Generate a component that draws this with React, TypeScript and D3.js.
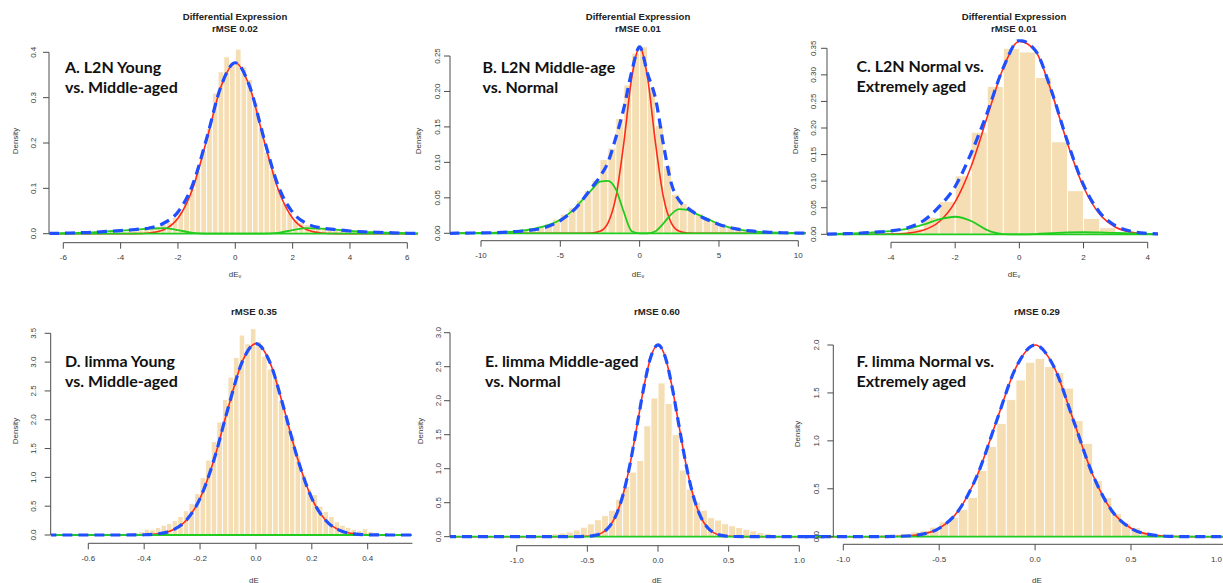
import React from "react";
import * as d3 from "d3";

// ---- A. L2N Young vs. Middle-aged ----
const aX = [-6.5, -6, -5.5, -5, -4.5, -4, -3.5, -3, -2.5, -2, -1.5, -1, -0.5, 0, 0.5, 1, 1.5, 2, 2.5, 3, 3.5, 4, 4.5, 5, 5.5, 6, 6.5];
const aRed = [0, 0, 0, 0, 0, 0, 0.0002, 0.0017, 0.0087, 0.034, 0.097, 0.206, 0.324, 0.377, 0.324, 0.206, 0.097, 0.034, 0.0087, 0.0017, 0.0002, 0, 0, 0, 0, 0, 0];
const aGreenL = [0.0005, 0.001, 0.002, 0.003, 0.005, 0.0068, 0.009, 0.011, 0.0125, 0.008, 0.002, 0.0003, 0, 0, 0, 0, 0, 0, 0, 0, 0, 0, 0, 0, 0, 0, 0];
const aGreenR = [0, 0, 0, 0, 0, 0, 0, 0, 0, 0, 0, 0, 0, 0, 0, 0.0003, 0.002, 0.008, 0.0125, 0.011, 0.009, 0.006, 0.004, 0.003, 0.002, 0.001, 0.0005];
const aBlue = [0.0005, 0.001, 0.002, 0.003, 0.005, 0.0068, 0.0092, 0.0127, 0.023, 0.048, 0.106, 0.21, 0.325, 0.377, 0.325, 0.21, 0.105, 0.047, 0.022, 0.0127, 0.0092, 0.006, 0.004, 0.003, 0.002, 0.001, 0.0005];
const aBins = [0.003, 0.004, 0.004, 0.005, 0.006, 0.007, 0.008, 0.011, 0.013, 0.016, 0.02, 0.026, 0.036, 0.05, 0.072, 0.1, 0.138, 0.182, 0.232, 0.31, 0.357, 0.39, 0.378, 0.407, 0.368, 0.34, 0.29, 0.235, 0.18, 0.14, 0.1, 0.068, 0.046, 0.032, 0.025, 0.02, 0.017, 0.015, 0.013, 0.011, 0.009, 0.007, 0.006, 0.005, 0.004, 0.003];

// ---- B. L2N Middle-age vs. Normal ----
const bX = [-12, -11, -10, -9, -8, -7, -6, -5, -4.5, -4, -3.5, -3, -2.5, -2, -1.5, -1, -0.5, 0, 0.5, 1, 1.5, 2, 2.5, 3, 3.5, 4, 4.5, 5, 6, 7, 8, 9, 10, 11];
const bRed = [0, 0, 0, 0, 0, 0, 0, 0, 0, 0, 0.0001, 0.0004, 0.0028, 0.0144, 0.051, 0.127, 0.219, 0.262, 0.219, 0.127, 0.051, 0.0144, 0.0028, 0.0004, 0.0001, 0, 0, 0, 0, 0, 0, 0, 0, 0];
const bGreenL = [0, 0.0003, 0.0006, 0.001, 0.0025, 0.005, 0.01, 0.019, 0.027, 0.037, 0.05, 0.062, 0.073, 0.074, 0.062, 0.03, 0.003, 0, 0, 0, 0, 0, 0, 0, 0, 0, 0, 0, 0, 0, 0, 0, 0, 0];
const bGreenR = [0, 0, 0, 0, 0, 0, 0, 0, 0, 0, 0, 0, 0, 0, 0, 0, 0, 0, 0, 0.003, 0.014, 0.027, 0.034, 0.033, 0.028, 0.023, 0.018, 0.013, 0.0066, 0.003, 0.0015, 0.0007, 0.0003, 0.0001];
const bBlue = [0, 0.0003, 0.0006, 0.001, 0.0022, 0.004, 0.008, 0.018, 0.026, 0.036, 0.05, 0.065, 0.08, 0.1, 0.135, 0.176, 0.228, 0.263, 0.225, 0.19, 0.125, 0.07, 0.046, 0.036, 0.028, 0.022, 0.017, 0.0125, 0.0065, 0.0033, 0.0016, 0.0008, 0.0003, 0.0001];
const bBins = [0.003, 0.005, 0.007, 0.01, 0.014, 0.02, 0.027, 0.036, 0.047, 0.06, 0.075, 0.104, 0.12, 0.162, 0.209, 0.254, 0.263, 0.205, 0.152, 0.095, 0.055, 0.042, 0.034, 0.028, 0.022, 0.017, 0.013, 0.01, 0.007, 0.005, 0.003, 0.002];

// ---- C. L2N Normal vs. Extremely aged ----
const cX = [-6, -5.5, -5, -4.5, -4, -3.5, -3, -2.5, -2, -1.5, -1, -0.5, 0, 0.5, 1, 1.5, 2, 2.5, 3, 3.5, 4, 4.5];
const cRed = [0, 0, 0, 0.0001, 0.0004, 0.002, 0.0075, 0.0236, 0.061, 0.128, 0.221, 0.313, 0.363, 0.345, 0.268, 0.171, 0.089, 0.038, 0.0134, 0.0039, 0.0009, 0.0002];
const cGreenL = [0.0003, 0.001, 0.002, 0.004, 0.006, 0.01, 0.018, 0.028, 0.033, 0.025, 0.008, 0.0005, 0, 0, 0, 0, 0, 0, 0, 0, 0, 0];
const cGreenR = [0, 0, 0, 0, 0, 0, 0, 0, 0, 0, 0, 0, 0, 0.0005, 0.002, 0.0035, 0.004, 0.0035, 0.0025, 0.0015, 0.0008, 0.0004];
const cBlue = [0.0003, 0.001, 0.002, 0.004, 0.0065, 0.012, 0.025, 0.052, 0.09, 0.153, 0.229, 0.3135, 0.365, 0.346, 0.27, 0.1745, 0.093, 0.0415, 0.016, 0.0054, 0.0017, 0.0006];
const cBins = [0.001, 0.004, 0.011, 0.032, 0.0615, 0.11, 0.192, 0.278, 0.35, 0.343, 0.295, 0.174, 0.082, 0.03, 0.0125, 0.004];

// ---- D. limma Young vs. Middle-aged ----
const dX = [-0.75, -0.7, -0.65, -0.6, -0.55, -0.5, -0.45, -0.4, -0.35, -0.3, -0.25, -0.2, -0.15, -0.1, -0.05, 0, 0.05, 0.1, 0.15, 0.2, 0.25, 0.3, 0.35, 0.4, 0.45, 0.5, 0.55, 0.6];
const dRed = [0, 0, 0, 0, 0, 0, 0.0008, 0.0045, 0.021, 0.081, 0.251, 0.636, 1.31, 2.196, 2.995, 3.32, 2.995, 2.196, 1.31, 0.636, 0.251, 0.081, 0.021, 0.0045, 0.0008, 0, 0, 0];
const dGreen = [0, 0, 0, 0, 0, 0, 0, 0, 0, 0, 0, 0, 0, 0, 0, 0, 0, 0, 0, 0, 0, 0, 0, 0, 0, 0, 0, 0];
const dBins = [0.01, 0.02, 0.02, 0.03, 0.04, 0.06, 0.1, 0.09, 0.13, 0.17, 0.2, 0.25, 0.32, 0.42, 0.55, 0.72, 1.0, 1.3, 1.62, 1.96, 2.35, 2.74, 3.08, 3.47, 3.32, 3.58, 3.36, 3.1, 2.88, 2.72, 2.34, 2.03, 1.72, 1.38, 1.05, 0.79, 0.7, 0.5, 0.41, 0.32, 0.23, 0.17, 0.13, 0.1, 0.075, 0.11, 0.06, 0.04, 0.02];

// ---- E. limma Middle-aged vs. Normal ----
const eX = [-1.5, -1.2, -0.9, -0.7, -0.6, -0.5, -0.45, -0.4, -0.35, -0.3, -0.25, -0.2, -0.15, -0.1, -0.05, 0, 0.05, 0.1, 0.15, 0.2, 0.25, 0.3, 0.35, 0.4, 0.45, 0.5, 0.6, 0.7, 0.9, 1.2];
const eRed = [0, 0, 0, 0, 0.0004, 0.0057, 0.0186, 0.053, 0.135, 0.302, 0.598, 1.045, 1.614, 2.2, 2.65, 2.82, 2.65, 2.2, 1.614, 1.045, 0.598, 0.302, 0.135, 0.053, 0.0186, 0.0057, 0.0004, 0, 0, 0];
const eGreen = [0, 0, 0, 0, 0, 0, 0, 0, 0, 0, 0, 0, 0, 0, 0, 0, 0, 0, 0, 0, 0, 0, 0, 0, 0, 0, 0, 0, 0, 0];
const eBins = [0.01, 0.015, 0.02, 0.03, 0.04, 0.055, 0.07, 0.1, 0.14, 0.19, 0.25, 0.31, 0.39, 0.55, 0.74, 0.95, 1.12, 1.63, 2.04, 2.26, 1.96, 1.5, 0.98, 0.7, 0.51, 0.39, 0.28, 0.245, 0.19, 0.16, 0.135, 0.11, 0.085, 0.06, 0.045, 0.02];

// ---- F. limma Normal vs. Extremely aged ----
const fX = [-1.2, -1.1, -1, -0.9, -0.8, -0.7, -0.6, -0.5, -0.4, -0.3, -0.2, -0.1, 0, 0.1, 0.2, 0.3, 0.4, 0.5, 0.6, 0.7, 0.8, 0.9, 1, 1.1, 1.2];
const fRed = [0, 0, 0, 0, 0.0007, 0.0044, 0.022, 0.088, 0.271, 0.649, 1.213, 1.765, 2.0, 1.765, 1.213, 0.649, 0.271, 0.088, 0.022, 0.0044, 0.0007, 0, 0, 0, 0];
const fGreen = [0, 0, 0, 0, 0, 0, 0, 0, 0, 0, 0, 0, 0, 0, 0, 0, 0, 0, 0, 0, 0, 0, 0, 0, 0];
const fBins = [0.01, 0.02, 0.035, 0.05, 0.063, 0.1, 0.155, 0.2, 0.285, 0.41, 0.69, 0.94, 1.18, 1.43, 1.635, 1.82, 1.86, 1.775, 1.71, 1.55, 1.21, 0.974, 0.585, 0.41, 0.24, 0.14, 0.094, 0.05, 0.025];

type Panel = {
  key: string;
  xCal: [number, number, number, number];
  yCal: [number, number, number, number];
  clip: [number, number, number, number];
  xTicks: number[];
  xDec: number;
  xLine: [number, number];
  xAxisY: number;
  yTicks: number[];
  yDec: number;
  yAxisX: number;
  yLabelX: number;
  densityX: number;
  densityY: number;
  centerX: number;
  titles: string[];
  titleY: number;
  xTitleY: number;
  sub: boolean;
  notes: string[];
  noteX: number;
  noteY: number;
  binStart: number;
  binWidth: number;
  bins: number[];
  cx: number[];
  red: number[];
  greens: number[][];
  blue: number[];
};

const panels: Panel[] = [
  {
    key: "a", xCal: [-6, 63.3, 6, 407.3], yCal: [0, 233.7, 0.4, 52.3], clip: [49.5, 418, 40, 241],
    xTicks: [-6, -4, -2, 0, 2, 4, 6], xDec: 0, xLine: [-6, 6], xAxisY: 242.7,
    yTicks: [0, 0.1, 0.2, 0.3, 0.4], yDec: 1, yAxisX: 49, yLabelX: 33, densityX: 15, densityY: 141,
    centerX: 235, titles: ["Differential Expression", "rMSE 0.02"], titleY: 16, xTitleY: 274, sub: true,
    notes: ["A. L2N Young", "vs. Middle-aged"], noteX: 65, noteY: 72.5,
    binStart: -4.6, binWidth: 0.2, bins: aBins, cx: aX, red: aRed, greens: [aGreenL, aGreenR], blue: aBlue,
  },
  {
    key: "b", xCal: [-10, 481, 10, 798.3], yCal: [0, 233.3, 0.25, 56], clip: [450, 806, 40, 240],
    xTicks: [-10, -5, 0, 5, 10], xDec: 0, xLine: [-10, 10], xAxisY: 240.7,
    yTicks: [0, 0.05, 0.1, 0.15, 0.2, 0.25], yDec: 2, yAxisX: 450, yLabelX: 437, densityX: 418, densityY: 141,
    centerX: 638, titles: ["Differential Expression", "rMSE 0.01"], titleY: 16, xTitleY: 274, sub: true,
    notes: ["B. L2N Middle-age", "vs. Normal"], noteX: 482.5, noteY: 72.5,
    binStart: -8, binWidth: 0.5, bins: bBins, cx: bX, red: bRed, greens: [bGreenL, bGreenR], blue: bBlue,
  },
  {
    key: "c", xCal: [-4, 891, 4, 1147.7], yCal: [0, 234.3, 0.35, 48.3], clip: [827, 1158, 39.3, 241],
    xTicks: [-4, -2, 0, 2, 4], xDec: 0, xLine: [-4, 4], xAxisY: 242.3,
    yTicks: [0, 0.05, 0.1, 0.15, 0.2, 0.25, 0.3, 0.35], yDec: 2, yAxisX: 827, yLabelX: 813, densityX: 795, densityY: 141,
    centerX: 1014, titles: ["Differential Expression", "rMSE 0.01"], titleY: 16, xTitleY: 274, sub: true,
    notes: ["C. L2N Normal vs.", "Extremely aged"], noteX: 856.5, noteY: 72,
    binStart: -4.5, binWidth: 0.5, bins: cBins, cx: cX, red: cRed, greens: [cGreenL, cGreenR], blue: cBlue,
  },
  {
    key: "d", xCal: [-0.6, 88.3, 0.4, 367.7], yCal: [0, 535, 3.5, 333.3], clip: [51, 412, 320, 542],
    xTicks: [-0.6, -0.4, -0.2, 0, 0.2, 0.4], xDec: 1, xLine: [-0.6, 0.56], xAxisY: 543.3,
    yTicks: [0, 0.5, 1, 1.5, 2, 2.5, 3, 3.5], yDec: 1, yAxisX: 50.7, yLabelX: 33.5, densityX: 15, densityY: 431,
    centerX: 254, titles: ["rMSE 0.35"], titleY: 311, xTitleY: 580, sub: false,
    notes: ["D. limma Young", "vs. Middle-aged"], noteX: 65, noteY: 366.5,
    binStart: -0.52, binWidth: 0.02, bins: dBins, cx: dX, red: dRed, greens: [dGreen], blue: dRed,
  },
  {
    key: "e", xCal: [-1, 516.7, 1, 799.3], yCal: [0, 536.7, 3, 332.7], clip: [450, 833, 320, 544],
    xTicks: [-1, -0.5, 0, 0.5, 1], xDec: 1, xLine: [-1, 1], xAxisY: 545.7,
    yTicks: [0, 0.5, 1, 1.5, 2, 2.5, 3], yDec: 1, yAxisX: 450, yLabelX: 438, densityX: 420, densityY: 431,
    centerX: 657, titles: ["rMSE 0.60"], titleY: 311, xTitleY: 580, sub: false,
    notes: ["E. limma Middle-aged", "vs. Normal"], noteX: 485, noteY: 366.5,
    binStart: -0.95, binWidth: 0.05, bins: eBins, cx: eX, red: eRed, greens: [eGreen], blue: eRed,
  },
  {
    key: "f", xCal: [-1, 843.3, 0.5, 1131], yCal: [0, 536.7, 2, 345], clip: [800, 1223, 320, 543],
    xTicks: [-1, -0.5, 0, 0.5, 1], xDec: 1, xLine: [-1, 1], xAxisY: 544.3,
    yTicks: [0, 0.5, 1, 1.5, 2], yDec: 1, yAxisX: 833.3, yLabelX: 816, densityX: 797, densityY: 434,
    centerX: 1037, titles: ["rMSE 0.29"], titleY: 311, xTitleY: 580, sub: false,
    notes: ["F. limma Normal vs.", "Extremely aged"], noteX: 856.5, noteY: 366.5,
    binStart: -0.8, binWidth: 0.05, bins: fBins, cx: fX, red: fRed, greens: [fGreen], blue: fRed,
  },
];

const W = 1223;
const H = 583;
const FONT = "'Liberation Sans', Arial, sans-serif";
const AXIS = "#4d4d4d";
const LABEL = "#3a3a3a";

function HistPanel({ p }: { p: Panel }) {
  const x = d3.scaleLinear().domain([p.xCal[0], p.xCal[2]]).range([p.xCal[1], p.xCal[3]]);
  const y = d3.scaleLinear().domain([p.yCal[0], p.yCal[2]]).range([p.yCal[1], p.yCal[3]]);
  const line = d3
    .line<number>()
    .x((_, i) => x(p.cx[i]))
    .y((d) => y(d))
    .curve(d3.curveMonotoneX);
  const clipId = `clip-${p.key}`;
  const [cx0, cx1, cy0, cy1] = p.clip;
  const yTop = p.yTicks[p.yTicks.length - 1];

  return (
    <g>
      <defs>
        <clipPath id={clipId}>
          <rect x={cx0} y={cy0} width={cx1 - cx0} height={cy1 - cy0} />
        </clipPath>
      </defs>

      <g clipPath={`url(#${clipId})`}>
        {p.bins.map((h, i) => {
          const b0 = p.binStart + i * p.binWidth;
          const x0 = x(b0);
          const x1 = x(b0 + p.binWidth);
          return (
            <rect
              key={i}
              x={x0}
              y={y(h)}
              width={x1 - x0}
              height={y(0) - y(h)}
              fill="#f5deb3"
              stroke="#ffffff"
              strokeWidth={0.9}
            />
          );
        })}
        <path d={line(p.red) ?? ""} fill="none" stroke="#ff2a1a" strokeWidth={1.6} />
        {p.greens.map((g, i) => (
          <path key={i} d={line(g) ?? ""} fill="none" stroke="#1fcc1f" strokeWidth={1.8} />
        ))}
        <path
          d={line(p.blue) ?? ""}
          fill="none"
          stroke="#1f4fff"
          strokeWidth={3.2}
          strokeDasharray="10 6"
        />
      </g>

      {/* x axis */}
      <g fontFamily={FONT} fontSize={8} fill={LABEL}>
        <line x1={x(p.xLine[0])} x2={x(p.xLine[1])} y1={p.xAxisY} y2={p.xAxisY} stroke={AXIS} strokeWidth={1} />
        {p.xTicks.map((t) => {
          const tx = x(t);
          // a label that would run past the right edge is kept inside it
          const atEdge = tx > W - 12;
          return (
            <g key={t}>
              <line x1={tx} x2={tx} y1={p.xAxisY} y2={p.xAxisY + 6} stroke={AXIS} strokeWidth={1} />
              <text
                x={atEdge ? W - 1 : tx}
                y={p.xAxisY + 15}
                textAnchor={atEdge ? "end" : "middle"}
                dominantBaseline="central"
              >
                {t.toFixed(p.xDec)}
              </text>
            </g>
          );
        })}
      </g>

      {/* y axis */}
      <g fontFamily={FONT} fontSize={8} fill={LABEL}>
        <line x1={p.yAxisX} x2={p.yAxisX} y1={y(0)} y2={y(yTop)} stroke={AXIS} strokeWidth={1} />
        {p.yTicks.map((t) => (
          <g key={t}>
            <line x1={p.yAxisX - 6} x2={p.yAxisX} y1={y(t)} y2={y(t)} stroke={AXIS} strokeWidth={1} />
            <text
              transform={`translate(${p.yLabelX},${y(t)}) rotate(-90)`}
              textAnchor="middle"
              dominantBaseline="central"
            >
              {t.toFixed(p.yDec)}
            </text>
          </g>
        ))}
        <text
          transform={`translate(${p.densityX},${p.densityY}) rotate(-90)`}
          textAnchor="middle"
          dominantBaseline="central"
        >
          Density
        </text>
        <text x={p.centerX} y={p.xTitleY} textAnchor="middle" dominantBaseline="central">
          dE
          {p.sub && (
            <tspan fontSize={5.5} dy={2}>
              v
            </tspan>
          )}
        </text>
      </g>

      {/* titles */}
      <g fontFamily={FONT} fontSize={9.6} fontWeight="bold" fill="#222">
        {p.titles.map((t, i) => (
          <text key={t} x={p.centerX} y={p.titleY + i * 12} textAnchor="middle" dominantBaseline="central">
            {t}
          </text>
        ))}
      </g>

      {/* panel annotation */}
      <g fontFamily="Lato, 'Open Sans', sans-serif" fontSize={16} fontWeight={700} fill="#111">
        {p.notes.map((t, i) => (
          <text key={t} x={p.noteX} y={p.noteY + i * 20.3}>
            {t}
          </text>
        ))}
      </g>
    </g>
  );
}

export default function App() {
  return (
    <svg
      width={W}
      height={H}
      viewBox={`0 0 ${W} ${H}`}
      style={{ position: "absolute", left: 0, top: 0, background: "#ffffff" }}
    >
      {panels.map((p) => (
        <HistPanel key={p.key} p={p} />
      ))}
    </svg>
  );
}
